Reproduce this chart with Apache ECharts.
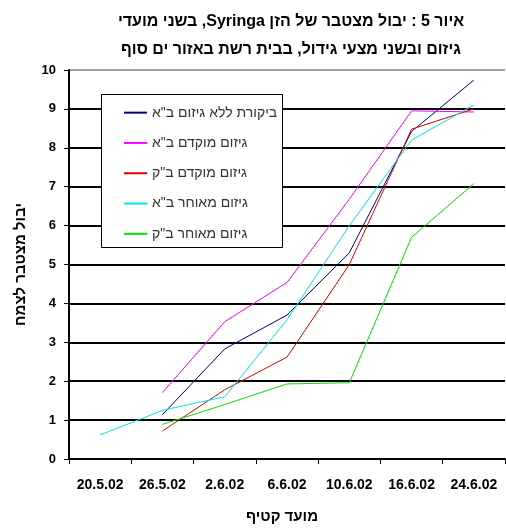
<!DOCTYPE html>
<html>
<head>
<meta charset="utf-8">
<script src="https://cdn.jsdelivr.net/npm/echarts@6/dist/echarts.min.js"></script>
<style>
  html, body { margin: 0; padding: 0; background: #fff; }
  #chart { width: 506px; height: 529px; }
</style>
</head>
<body>
<div id="chart"></div>
<script>
// Harvest dates (category axis)
const harvestDates = ['20.5.02', '26.5.02', '2.6.02', '6.6.02', '10.6.02', '16.6.02', '24.6.02'];

// Cumulative yield per plant for each treatment
const controlNoPruningBA = [null, 1.14, 2.83, 3.70, 5.30, 8.42, 9.74];
const earlyPruningBA     = [null, 1.71, 3.53, 4.54, 6.68, 8.95, 8.92];
const earlyPruningBK     = [null, 0.72, 1.78, 2.62, 5.00, 8.48, 9.00];
const latePruningBA      = [0.62, 1.25, 1.60, 3.58, 6.00, 8.20, 9.10];
const latePruningBK      = [null, 0.89, 1.40, 1.93, 1.96, 5.70, 7.08];

// Y axis ticks
const yTicks = [0, 1, 2, 3, 4, 5, 6, 7, 8, 9, 10];

const seriesNames = [
  'ביקורת ללא גיזום ב"א',
  'גיזום מוקדם ב"א',
  'גיזום מוקדם ב"ק',
  'גיזום מאוחר ב"א',
  'גיזום מאוחר ב"ק'
];
const seriesData = [controlNoPruningBA, earlyPruningBA, earlyPruningBK, latePruningBA, latePruningBK];
const seriesColors = ['#000080', '#ff00ff', '#e00000', '#00e8e8', '#00e000'];

const titleLines = [
  'איור 5 : יבול מצטבר של הזן Syringa, בשני מועדי',
  'גיזום ובשני מצעי גידול, בבית רשת באזור ים סוף'
];

const FONT = '"Liberation Sans", "DejaVu Sans", Arial, sans-serif';

// right-to-left embedding so mixed Hebrew/Latin lines keep their reading order
const rtl = s => '\u202B' + s + '\u202C';

const chart = echarts.init(document.getElementById('chart'), null, { renderer: 'canvas' });

// grid line colours: black for inner lines, light grey for the top border line
const splitColors = yTicks.map(v => (v === yTicks[yTicks.length - 1] ? '#a0a0a0' : '#000'));

chart.setOption({
  animation: false,
  backgroundColor: '#fff',
  title: {
    text: titleLines.map(rtl).join('\n'),
    left: 286,
    top: 3,
    textAlign: 'center',
    textStyle: {
      fontFamily: FONT,
      fontSize: 16,
      fontWeight: 'bold',
      color: '#000',
      lineHeight: 28
    }
  },
  grid: {
    left: 69,
    right: 1,
    top: 70,
    bottom: 68,
    containLabel: false
  },
  graphic: [{
    type: 'rect',
    z: 5,
    shape: { x: 101.5, y: 94.5, width: 181, height: 153 },
    style: { fill: '#fff', stroke: '#000', lineWidth: 1 }
  }],
  legend: {
    z: 6,
    orient: 'vertical',
    left: 124,
    top: 97.5,
    padding: 0,
    itemGap: 0,
    itemWidth: 23,
    itemHeight: 2,
    icon: 'rect',
    data: seriesNames,
    textStyle: {
      fontFamily: FONT,
      fontSize: 14,
      color: '#333',
      lineHeight: 30.3,
      padding: [0, 0, 0, 0]
    }
  },
  xAxis: {
    type: 'category',
    data: harvestDates,
    boundaryGap: true,
    name: 'מועד קטיף',
    nameLocation: 'middle',
    nameGap: 50,
    nameTextStyle: {
      fontFamily: FONT,
      fontSize: 15,
      fontWeight: 'bold',
      color: '#000',
      padding: [0, 10, 0, 0]
    },
    axisLine: { show: true, lineStyle: { color: '#000', width: 2 } },
    axisTick: { show: true, inside: false, length: 5, lineStyle: { color: '#000', width: 1 } },
    axisLabel: {
      interval: 0,
      margin: 19,
      fontFamily: FONT,
      fontSize: 14,
      fontWeight: 'bold',
      color: '#000'
    },
    splitLine: { show: false }
  },
  yAxis: {
    type: 'value',
    min: yTicks[0],
    max: yTicks[yTicks.length - 1],
    interval: 1,
    name: 'יבול מצטבר לצמח',
    nameLocation: 'middle',
    nameGap: 41,
    nameRotate: 90,
    nameTextStyle: {
      fontFamily: FONT,
      fontSize: 15,
      fontWeight: 'bold',
      color: '#000'
    },
    axisLine: { show: true, lineStyle: { color: '#000', width: 2 } },
    axisTick: { show: true, inside: false, length: 5, lineStyle: { color: '#000', width: 1 } },
    axisLabel: {
      margin: 13,
      fontFamily: FONT,
      fontSize: 13,
      fontWeight: 'bold',
      color: '#000'
    },
    splitLine: { show: true, lineStyle: { color: splitColors, width: 2 } }
  },
  series: seriesNames.map((name, i) => ({
    name: name,
    type: 'line',
    data: seriesData[i],
    connectNulls: false,
    showSymbol: false,
    symbol: 'none',
    z: 2,
    lineStyle: { color: seriesColors[i], width: 1 },
    itemStyle: { color: seriesColors[i] },
    emphasis: { disabled: true }
  }))
});
</script>
</body>
</html>
